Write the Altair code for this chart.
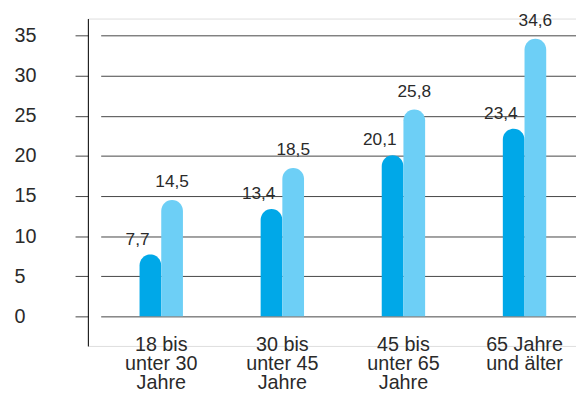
import altair as alt
import pandas as pd

categories = ["18 bis\nunter 30\nJahre", "30 bis\nunter 45\nJahre", "45 bis\nunter 65\nJahre", "65 Jahre\nund älter"]
series_names = ["Reihe 1", "Reihe 2"]
values_dark = [7.7, 13.4, 20.1, 23.4]
values_light = [14.5, 18.5, 25.8, 34.6]
y_ticks = [0, 5, 10, 15, 20, 25, 30, 35]

rows = []
for c, v in zip(categories, values_dark):
    rows.append({"Kategorie": c, "Reihe": series_names[0], "Wert": v})
for c, v in zip(categories, values_light):
    rows.append({"Kategorie": c, "Reihe": series_names[1], "Wert": v})
df = pd.DataFrame(rows)

FONT = "Liberation Sans"
DARK = "#00A8E8"
LIGHT = "#6DCFF6"
TXT = "#2a2a2a"

x_enc = alt.X(
    "Kategorie:N",
    sort=categories,
    scale=alt.Scale(range=[13.0, 504.2], paddingInner=0, paddingOuter=0),
    axis=alt.Axis(
        title=None, domain=False, ticks=False, tickSize=0, labelAngle=0,
        labelExpr="split(datum.label, '\\n')",
        labelFont=FONT, labelFontSize=20, labelColor=TXT,
        labelLineHeight=19, labelBaseline="alphabetic", labelPadding=5,
    ),
)
xoff_enc = alt.XOffset(
    "Reihe:N", sort=series_names,
    scale=alt.Scale(range=[39.4, 83.4], paddingInner=0, paddingOuter=0),
)
y_scale = alt.Scale(domain=[-3.69, 37.13], nice=False, zero=False)

bars = alt.Chart(df).mark_bar(
    cornerRadiusTopLeft=11, cornerRadiusTopRight=11
).encode(
    x=x_enc,
    xOffset=xoff_enc,
    y=alt.Y(
        "Wert:Q", scale=y_scale,
        axis=alt.Axis(
            title=None, values=y_ticks, grid=True, gridColor="#444444", gridWidth=1,
            domain=True, domainColor="#000000", domainWidth=1,
            ticks=True, tickSize=13, tickColor="#444444", tickWidth=1,
            labelAlign="left", labelPadding=62, labelBaseline="middle",
            labelFont=FONT, labelFontSize=20, labelColor=TXT,
        ),
    ),
    y2=alt.datum(0),
    color=alt.Color("Reihe:N", sort=series_names,
                    scale=alt.Scale(domain=series_names, range=[DARK, LIGHT]),
                    legend=None),
)

base_text = alt.Chart(df).transform_calculate(
    label="replace(format(datum.Wert, '.1f'), '.', ',')"
)

text_dark = base_text.transform_filter(
    alt.datum.Reihe == series_names[0]
).mark_text(font=FONT, fontSize=17.5, color=TXT, baseline="alphabetic", dx=-13, dy=-10).encode(
    x=x_enc, xOffset=xoff_enc, y=alt.Y("Wert:Q", scale=y_scale), text="label:N"
)
text_light = base_text.transform_filter(
    alt.datum.Reihe == series_names[1]
).mark_text(font=FONT, fontSize=17.5, color=TXT, baseline="alphabetic", dx=0, dy=-13).encode(
    x=x_enc, xOffset=xoff_enc, y=alt.Y("Wert:Q", scale=y_scale), text="label:N"
)

chart = alt.layer(bars, text_dark, text_light).properties(
    width=495, height=332,
    autosize=alt.AutoSizeParams(type="none"),
    padding={"left": 81, "top": 8, "right": 0, "bottom": 45},
).configure_view(stroke=None).configure(background="white")

chart.save("out.html", embed_options={"renderer": "svg", "actions": False})
